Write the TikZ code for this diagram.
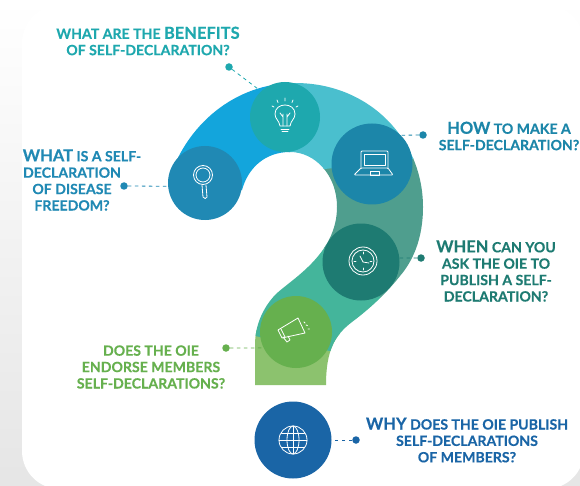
\documentclass[tikz,border=0pt]{standalone}
\usepackage{fontspec}
\setmainfont{Lato}[BoldFeatures={FakeBold=0.35}]
\usetikzlibrary{positioning}
\definecolor{cblue}{HTML}{13A5DC}
\definecolor{clight}{HTML}{4ABFCE}
\definecolor{cgrey}{HTML}{4F9E8E}
\definecolor{cteal}{HTML}{44B59B}
\definecolor{cleaf}{HTML}{8CC26E}
\definecolor{cwhat}{HTML}{2089B4}
\definecolor{cbenefit}{HTML}{1EA8AE}
\definecolor{chow}{HTML}{1C86A9}
\definecolor{cwhen}{HTML}{1E7B72}
\definecolor{cdoes}{HTML}{66B04E}
\definecolor{cwhy}{HTML}{1A65A6}
\newcommand{\bigword}[1]{{\fontsize{16.5}{16.5}\selectfont #1}}
\begin{document}
\begin{tikzpicture}[%
    x=1pt,
    y=-1pt,
    iconline/.style={%
      draw=white,
      line width=0.8pt,
      line cap=round,
      line join=round
    },
    disc/.style={%
      circle,
      inner sep=0pt,
      minimum size=#1
    },
    tip/.style={%
      circle,
      inner sep=0pt,
      minimum size=7.5pt
    },
    link/.style={%
      dashed,
      dash pattern=on 3.5pt off 3.5pt,
      line width=0.8pt
    },
    question/.style={%
      align=center,
      inner sep=0pt,
      font=\fontsize{14.1}{16.4}\selectfont\bfseries
    }
  ]
    \useasboundingbox (0,0) rectangle (580,486);
    \clip (0,0) rectangle (580,486);
    \fill[top color=white, bottom color=black!10] (0,0) rectangle (580,486);
    \fill[white, rounded corners=38pt] (22,5) rectangle (584,489);

    % the body of the question mark
    \begin{scope}
      \clip (255,385) -- (255,345) .. controls (255,325) and (263,308) .. (275,295)
        .. controls (290,280) and (337,255) .. (337,207)
        .. controls (337,175) and (315,152) .. (290,152)
        .. controls (265,152) and (248,168) .. (242,190)
        -- (205,200) -- (168,183)
        .. controls (185,125) and (235,83) .. (295,83)
        .. controls (370,83) and (423,140) .. (423,207)
        .. controls (423,240) and (412,262) .. (400,276)
        .. controls (385,295) and (368,310) .. (352,322)
        .. controls (335,335) and (326,350) .. (326,385)
        -- cycle;
      \fill[cleaf]  (240,330) rectangle (340,400);
      \fill[cteal]  (240,225) -- (325,245) -- (390,305) -- (340,353) -- (240,333) -- cycle;
      \fill[cgrey]  (290,172) -- (430,156) -- (430,310) -- (390,305) -- (325,250) -- cycle;
      \fill[clight] (285,70) -- (430,70) -- (430,157) -- (290,173) -- cycle;
      \fill[cblue]  (150,70) rectangle (290,240);
    \end{scope}

    \node[disc=74pt, fill=cwhat]    (magnifier) at (205,183) {};
    \node[disc=70pt, fill=cbenefit] (bulb)      at (285,117) {};
    \node[disc=81pt, fill=chow]     (laptop)    at (372,164) {};
    \node[disc=77pt, fill=cwhen]    (clock)     at (361,262) {};
    \node[disc=72pt, fill=cdoes]    (megaphone) at (296,332) {};
    \node[disc=77pt, fill=cwhy]     (globe)     at (293,440) {};

    \node[tip, fill=cwhat]    (whatdot)    at (124,186) {};
    \node[tip, fill=cbenefit] (benefitdot) at (229,67)  {};
    \node[tip, fill=chow]     (howdot)     at (423,135) {};
    \node[tip, fill=cwhen]    (whendot)    at (421,258) {};
    \node[tip, fill=cdoes]    (doesdot)    at (226,348) {};
    \node[tip, fill=cwhy]     (whydot)     at (356,440) {};

    \draw[link, cwhat]    (whatdot)    -- (magnifier.185);
    \draw[link, cbenefit, shorten >=5pt] (benefitdot) -- (bulb.133);
    \draw[link, chow]     (howdot)     -- (laptop.45);
    \draw[link, cwhen]    (whendot)    -- (clock.6);
    \draw[link, cdoes]    (doesdot)    -- (megaphone.206);
    \draw[link, cwhy]     (whydot)     -- (globe.east);

    \node[question, text=cbenefit] (benefitlabel) at (148,41)
      {WHAT ARE THE \bigword{BENEFITS}\\OF SELF-DECLARATION?};
    \node[question, text=cwhat] (whatlabel) at (72,180)
      {\hspace*{20pt}\bigword{WHAT} IS A SELF-\\DECLARATION\\OF DISEASE\\FREEDOM?};
    \node[question, text=chow] (howlabel) at (509,136)
      {\bigword{HOW} TO MAKE A\\SELF-DECLARATION?};
    \node[question, text=cwhen] (whenlabel) at (496,271)
      {\bigword{WHEN} CAN YOU\\ASK THE OIE TO\\PUBLISH A SELF-\\DECLARATION?};
    \node[question, text=cdoes] (doeslabel) at (151,367)
      {DOES THE OIE\\ENDORSE MEMBERS\\SELF-DECLARATIONS?};
    \node[question, text=cwhy] (whylabel) at (467,440)
      {\bigword{WHY} DOES THE OIE PUBLISH\\SELF-DECLARATIONS\\OF MEMBERS?};

    % icons, relative to their discs
    \begin{scope}[shift={(magnifier)}]
      \draw[iconline] (-2,-8) circle (9.5);
      \draw[iconline] (-2,-8) circle (7);
      \draw[iconline] (-3,2) -- (-2,14) .. controls (-1.5,16) and (2,16) .. (2,14) -- (1,2);
    \end{scope}
    \begin{scope}[shift={(bulb)}]
      \draw[iconline] (-5,9) .. controls (-6,3) and (-10,2) .. (-10,-3)
        .. controls (-10,-15) and (10,-15) .. (10,-3)
        .. controls (10,2) and (6,3) .. (5,9) -- cycle;
      \draw[iconline] (-4,12) -- (4,12) (-3,14.5) -- (3,14.5);
      \draw[iconline] (-2,9) -- (-2,-3) (2,9) -- (2,-3) (-5,-4) -- (-2,0) (5,-4) -- (2,0);
      \draw[iconline] (0,-19) -- (0,-16) (-8,-17) -- (-7,-14.5) (8,-17) -- (7,-14.5)
        (-13,-11) -- (-11,-10) (13,-11) -- (11,-10);
    \end{scope}
    \begin{scope}[shift={(laptop)}]
      \draw[iconline, rounded corners=1pt] (-11,4) -- (-11,-13) -- (16,-13) -- (16,4);
      \draw[iconline] (-8,-10) rectangle (13,1);
      \draw[iconline, rounded corners=1pt] (-11,4) -- (-18,11) -- (21,11) -- (16,4) -- cycle;
      \draw[iconline] (-2,7) rectangle (7,11);
    \end{scope}
    \begin{scope}[shift={(clock)}]
      \draw[iconline] (2,-1) circle (14);
      \draw[iconline] (2,-1) circle (11);
      \draw[iconline] (-1,-6) -- (2,0) -- (8,1);
      \draw[iconline] (2,-10) -- (2,-8) (2,6) -- (2,8) (-7,-1) -- (-5,-1) (9,-1) -- (11,-1);
    \end{scope}
    \begin{scope}[shift={(megaphone)}]
      \draw[iconline] (-18,-2) -- (2,-14) -- (9,1) -- (-14,6) -- cycle;
      \draw[iconline] (-15,-3) -- (-11,5);
      \draw[iconline] (-13,5) -- (-9,10) -- (-6,8) -- (-8,4);
      \draw[iconline] (8,-10) -- (9,-9) (10,-7) -- (11.5,-6.5) (12,-3) -- (13.5,-3);
    \end{scope}
    \begin{scope}[shift={(globe)}]
      \draw[iconline] (0,0) circle (14);
      \draw[iconline] (0,0) ellipse (6 and 14);
      \draw[iconline] (0,-14) -- (0,14) (-14,0) -- (14,0);
      \draw[iconline] (-11.5,-7) -- (11.5,-7) (-11.5,7) -- (11.5,7);
    \end{scope}
  \end{tikzpicture}
\end{document}
